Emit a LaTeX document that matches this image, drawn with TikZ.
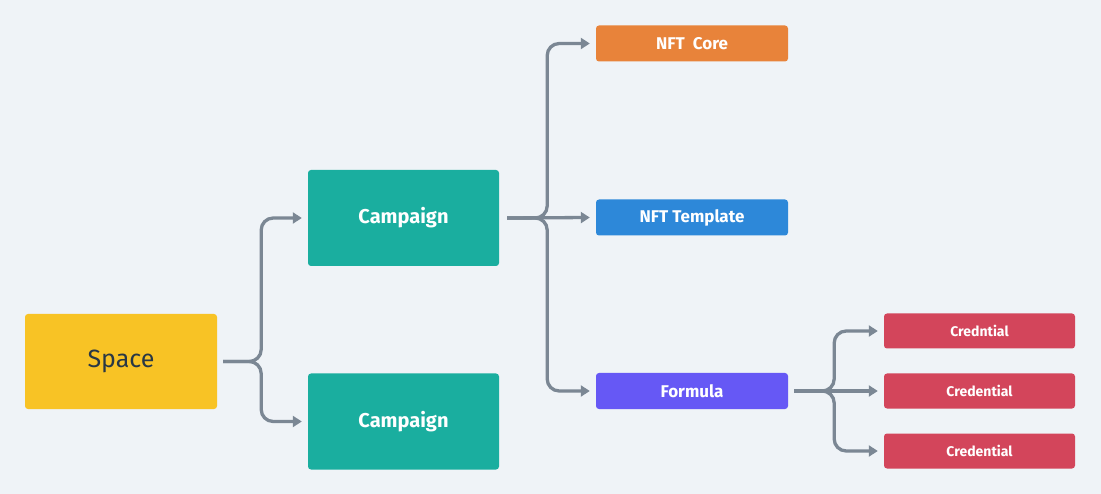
\documentclass[tikz,border=0pt]{standalone}
\usepackage{fontspec}
\setmainfont{Fira Sans}
\usetikzlibrary{arrows.meta}
\definecolor{bgc}{HTML}{EFF3F7}
\definecolor{linec}{HTML}{7B8794}
\definecolor{spacec}{HTML}{F8C325}
\definecolor{campc}{HTML}{1AAE9F}
\definecolor{corec}{HTML}{E8833A}
\definecolor{tplc}{HTML}{2D88D9}
\definecolor{formc}{HTML}{6658F5}
\definecolor{credc}{HTML}{D3455B}
\definecolor{darktxt}{HTML}{293845}
\tikzset{
  box/.style={rounded corners=3pt, inner sep=0pt, text=white, draw=none},
  bigbox/.style={box, minimum width=191pt, minimum height=96pt,
    font=\bfseries\fontsize{20}{24}\selectfont},
  smallbox/.style={box, minimum width=192pt, minimum height=36pt,
    font=\bfseries\fontsize{17}{20}\selectfont},
  credbox/.style={box, fill=credc, minimum width=191pt, minimum height=35pt,
    font=\bfseries\fontsize{14}{17}\selectfont},
  conn/.style={draw=linec, line width=3.3pt, rounded corners=12pt,
    -{Triangle[length=9pt,width=11pt]}},
}
\begin{document}
\begin{tikzpicture}[x=1pt,y=-1pt]
\fill[bgc] (0,0) rectangle (1101,494);
\useasboundingbox (0,0) rectangle (1101,494);
\node[bigbox, fill=spacec, text=darktxt, font=\fontsize{25}{28}\selectfont, minimum width=192pt, minimum height=95pt] (sp) at (121,361.5) {Space};
\node[bigbox, fill=campc] (c1) at (403.5,218) {Campaign};
\node[bigbox, fill=campc] (c2) at (403.5,421.5) {Campaign};
\node[smallbox, fill=corec] (core) at (692,43.5) {NFT\ \ Core};
\node[smallbox, fill=tplc] (tpl) at (692,217.5) {NFT Template};
\node[smallbox, fill=formc] (form) at (692,391) {Formula};
\node[credbox] (cr1) at (979.5,331) {Credntial};
\node[credbox] (cr2) at (979.5,391) {Credential};
\node[credbox] (cr3) at (979.5,451) {Credential};
% connectors
\draw[conn] ([xshift=6pt]sp.east) -- ++(38,0) |- ([xshift=-6pt]c1.west);
\draw[conn] ([xshift=6pt]sp.east) -- ++(38,0) |- ([xshift=-6pt]c2.west);
\draw[conn] ([xshift=8pt]c1.east) -- ++(40,0) |- ([xshift=-6pt]core.west);
\draw[conn] ([xshift=8pt]c1.east) -- ([xshift=-6pt]tpl.west);
\draw[conn] ([xshift=8pt]c1.east) -- ++(40,0) |- ([xshift=-6pt]form.west);
\draw[conn] ([xshift=6pt]form.east) -- ++(40,0) |- ([xshift=-6pt]cr1.west);
\draw[conn] ([xshift=6pt]form.east) -- ([xshift=-6pt]cr2.west);
\draw[conn] ([xshift=6pt]form.east) -- ++(40,0) |- ([xshift=-6pt]cr3.west);
\end{tikzpicture}
\end{document}
